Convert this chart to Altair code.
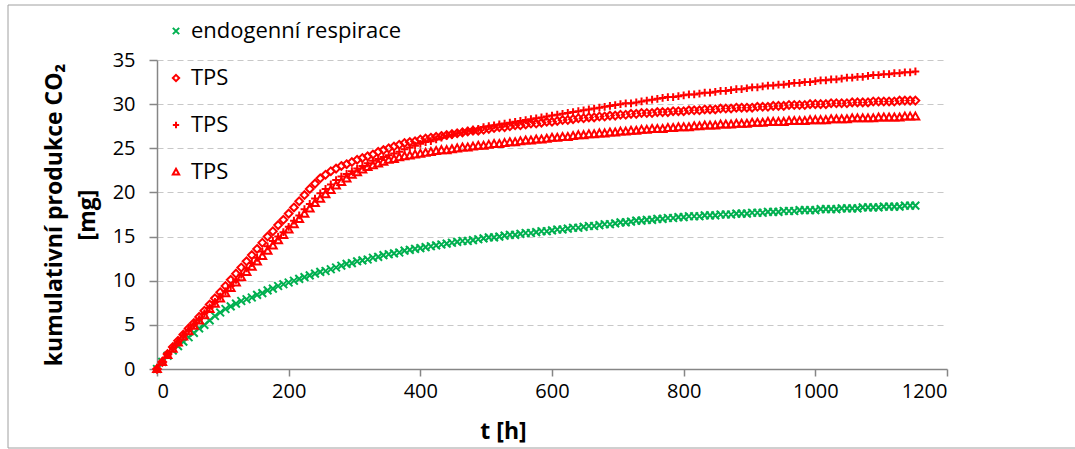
import altair as alt
import pandas as pd

# time axis: measurements every 8 h
T = list(range(0, 1153, 8))

ENDO = [0.0, 0.8, 1.5, 2.1, 2.6, 3.1, 3.6, 4.1, 4.6, 5.0, 5.5, 6.0, 6.4, 6.8, 7.1, 7.4, 7.7, 7.9, 8.1, 8.4,
        8.6, 8.9, 9.1, 9.4, 9.6, 9.8, 10.0, 10.2, 10.4, 10.6, 10.8, 11.0, 11.1, 11.3, 11.5, 11.7, 11.9, 12.0, 12.2, 12.3,
        12.4, 12.6, 12.7, 12.9, 13.0, 13.1, 13.2, 13.4, 13.5, 13.6, 13.7, 13.8, 13.9, 14.0, 14.1, 14.2, 14.3, 14.4, 14.5, 14.5,
        14.6, 14.7, 14.8, 14.9, 14.9, 15.0, 15.1, 15.2, 15.2, 15.3, 15.4, 15.4, 15.5, 15.6, 15.6, 15.7, 15.8, 15.8, 15.9, 16.0,
        16.0, 16.1, 16.2, 16.2, 16.3, 16.4, 16.4, 16.5, 16.6, 16.6, 16.7, 16.8, 16.8, 16.9, 16.9, 17.0, 17.0, 17.1, 17.1, 17.2,
        17.2, 17.3, 17.3, 17.3, 17.4, 17.4, 17.4, 17.5, 17.5, 17.5, 17.6, 17.6, 17.6, 17.7, 17.7, 17.7, 17.8, 17.8, 17.8, 17.9,
        17.9, 17.9, 18.0, 18.0, 18.0, 18.0, 18.1, 18.1, 18.1, 18.1, 18.2, 18.2, 18.2, 18.2, 18.3, 18.3, 18.3, 18.3, 18.4, 18.4,
        18.4, 18.4, 18.5, 18.5, 18.5]

TPS_DIAMOND = [0.0, 0.8, 1.7, 2.5, 3.2, 3.9, 4.6, 5.2, 5.9, 6.6, 7.3, 8.0, 8.7, 9.4, 10.1, 10.8, 11.5, 12.2, 12.9, 13.6,
               14.3, 15.0, 15.6, 16.3, 16.9, 17.6, 18.3, 19.0, 19.7, 20.4, 21.0, 21.6, 22.0, 22.4, 22.7, 23.0, 23.2, 23.45, 23.7, 23.9,
               24.1, 24.3, 24.6, 24.8, 25.0, 25.2, 25.4, 25.6, 25.7, 25.8, 26.0, 26.1, 26.2, 26.3, 26.4, 26.5, 26.6, 26.7, 26.8, 26.9,
               27.0, 27.0, 27.1, 27.2, 27.3, 27.4, 27.4, 27.5, 27.6, 27.6, 27.7, 27.8, 27.8, 27.9, 28.0, 28.0, 28.1, 28.2, 28.2, 28.3,
               28.4, 28.4, 28.5, 28.5, 28.6, 28.6, 28.7, 28.7, 28.8, 28.8, 28.9, 28.9, 29.0, 29.0, 29.0, 29.1, 29.1, 29.1, 29.2, 29.2,
               29.2, 29.3, 29.3, 29.3, 29.4, 29.4, 29.4, 29.5, 29.5, 29.5, 29.6, 29.6, 29.6, 29.6, 29.7, 29.7, 29.7, 29.8, 29.8, 29.8,
               29.9, 29.9, 29.9, 29.9, 30.0, 30.0, 30.0, 30.0, 30.1, 30.1, 30.1, 30.1, 30.2, 30.2, 30.2, 30.2, 30.3, 30.3, 30.3, 30.3,
               30.3, 30.4, 30.4, 30.4, 30.4]

TPS_PLUS = [0.0, 0.8, 1.6, 2.4, 3.1, 3.8, 4.4, 5.0, 5.6, 6.3, 6.9, 7.6, 8.2, 8.8, 9.4, 10.1, 10.7, 11.4, 12.0, 12.6,
            13.3, 13.9, 14.5, 15.0, 15.5, 16.1, 16.8, 17.4, 18.1, 18.7, 19.3, 19.9, 20.4, 20.9, 21.4, 21.8, 22.1, 22.4, 22.7, 23.0,
            23.3, 23.6, 23.8, 24.0, 24.2, 24.4, 24.6, 24.9, 25.1, 25.3, 25.5, 25.7, 25.8, 26.0, 26.2, 26.4, 26.5, 26.7, 26.8, 27.0,
            27.1, 27.2, 27.4, 27.5, 27.6, 27.7, 27.8, 27.9, 28.0, 28.1, 28.2, 28.3, 28.4, 28.5, 28.6, 28.7, 28.8, 28.9, 29.0, 29.1,
            29.2, 29.3, 29.4, 29.5, 29.6, 29.7, 29.8, 29.9, 30.0, 30.1, 30.1, 30.2, 30.3, 30.4, 30.5, 30.6, 30.7, 30.8, 30.8, 30.9,
            31.0, 31.1, 31.1, 31.2, 31.3, 31.3, 31.4, 31.5, 31.5, 31.6, 31.7, 31.7, 31.8, 31.9, 31.9, 32.0, 32.1, 32.1, 32.2, 32.2,
            32.3, 32.4, 32.4, 32.5, 32.5, 32.6, 32.7, 32.7, 32.8, 32.8, 32.9, 33.0, 33.0, 33.1, 33.1, 33.2, 33.3, 33.3, 33.4, 33.4,
            33.5, 33.5, 33.6, 33.6, 33.7]

TPS_TRIANGLE = [0.0, 0.8, 1.6, 2.3, 3.0, 3.7, 4.3, 4.9, 5.5, 6.1, 6.8, 7.4, 8.0, 8.6, 9.2, 9.8, 10.4, 11.0, 11.6, 12.2,
                12.8, 13.4, 14.0, 14.6, 15.2, 15.8, 16.4, 17.0, 17.6, 18.2, 18.8, 19.3, 19.8, 20.3, 20.8, 21.2, 21.6, 22.0, 22.3, 22.6,
                22.9, 23.1, 23.3, 23.5, 23.7, 23.8, 24.0, 24.1, 24.2, 24.3, 24.4, 24.5, 24.6, 24.7, 24.8, 24.8, 24.9, 25.0, 25.1, 25.1,
                25.2, 25.3, 25.3, 25.4, 25.5, 25.5, 25.6, 25.7, 25.7, 25.8, 25.9, 25.9, 26.0, 26.0, 26.1, 26.2, 26.2, 26.3, 26.3, 26.4,
                26.5, 26.5, 26.6, 26.6, 26.7, 26.7, 26.8, 26.8, 26.9, 26.9, 27.0, 27.0, 27.1, 27.1, 27.2, 27.2, 27.2, 27.3, 27.3, 27.4,
                27.4, 27.4, 27.5, 27.5, 27.6, 27.6, 27.6, 27.7, 27.7, 27.7, 27.8, 27.8, 27.8, 27.9, 27.9, 27.9, 28.0, 28.0, 28.0, 28.0,
                28.1, 28.1, 28.1, 28.1, 28.2, 28.2, 28.2, 28.2, 28.3, 28.3, 28.3, 28.3, 28.4, 28.4, 28.4, 28.4, 28.4, 28.5, 28.5, 28.5,
                28.5, 28.5, 28.6, 28.6, 28.6]

SERIES_IDS = ["a", "b", "c", "d"]
SERIES_LABELS = ["endogenní respirace", "TPS", "TPS", "TPS"]
SERIES_COLORS = ["#00B050", "#FF0000", "#FF0000", "#FF0000"]
SERIES_SHAPES = [
    "M-1,-1L1,1M-1,1L1,-1",
    "M0,-1L1,0L0,1L-1,0Z",
    "M-1,0L1,0M0,-1L0,1",
    "M0,-1L1,0.8L-1,0.8Z",
]
SERIES_VALUES = [ENDO, TPS_DIAMOND, TPS_PLUS, TPS_TRIANGLE]

rows = []
for sid, vals in zip(SERIES_IDS, SERIES_VALUES):
    for t, v in zip(T, vals):
        rows.append({"t": t, "v": v, "series": sid})
df = pd.DataFrame(rows)

label_expr = " : ".join(
    f"datum.label == '{sid}' ? '{lab}'" for sid, lab in zip(SERIES_IDS[:-1], SERIES_LABELS[:-1])
) + f" : '{SERIES_LABELS[-1]}'"

FONT = "Open Sans"
AXIS_GRAY = "#868686"

points = alt.Chart(df).mark_point(filled=False, size=60, strokeWidth=2, opacity=1).encode(
    x=alt.X("t:Q", scale=alt.Scale(domain=[0, 1200], nice=False),
            axis=alt.Axis(values=[0, 200, 400, 600, 800, 1000, 1200], grid=False, title="t [h]",
                          format="d", titleX=346, titleY=62, titleBaseline="middle")),
    y=alt.Y("v:Q", scale=alt.Scale(domain=[0, 35], nice=False),
            axis=alt.Axis(values=[0, 5, 10, 15, 20, 25, 30, 35], grid=True,
                          title=["kumulativní produkce CO₂", "[mg]"],
                          titleX=-103, titleY=154.5, titleAngle=270, titleAlign="center",
                          titleBaseline="middle", titleLineHeight=33)),
    color=alt.Color("series:N", scale=alt.Scale(domain=SERIES_IDS, range=SERIES_COLORS),
                    legend=alt.Legend(title=None, labelExpr=label_expr, orient="none",
                                      legendX=8, legendY=-40, direction="vertical",
                                      rowPadding=25, labelFontSize=22, labelFont=FONT,
                                      labelColor="#000000", labelLimit=400,
                                      symbolSize=40, symbolStrokeWidth=2,
                                      labelOffset=4, padding=0)),
    shape=alt.Shape("series:N", scale=alt.Scale(domain=SERIES_IDS, range=SERIES_SHAPES)),
    order=alt.Order("series:N"),
)

frame = alt.Chart(alt.Data(values=[{}])).mark_rect(fill="transparent", stroke="#A0A0A0", strokeWidth=1).encode(
    x=alt.value(-149), x2=alt.value(950), y=alt.value(-55), y2=alt.value(388)
)

chart = alt.layer(frame, points).properties(
    width=790, height=309,
    autosize=alt.AutoSizeParams(type="none"),
    padding={"left": 157, "top": 60, "right": 128, "bottom": 80},
).configure_view(stroke=None).configure_axis(
    domainColor=AXIS_GRAY, tickColor=AXIS_GRAY, domainWidth=1.5, tickWidth=1.5,
    labelFont=FONT, labelFontSize=20, labelColor="#000000",
    titleFont=FONT, titleFontSize=23, titleFontWeight="bold", titleColor="#000000",
    gridColor="#C8C8C8", gridDash=[6, 4], gridWidth=1.2,
).configure_axisX(tickSize=7, labelPadding=5).configure_axisY(tickSize=8, labelPadding=14)

chart.save("out.html", embed_options={"renderer": "svg", "actions": False})
